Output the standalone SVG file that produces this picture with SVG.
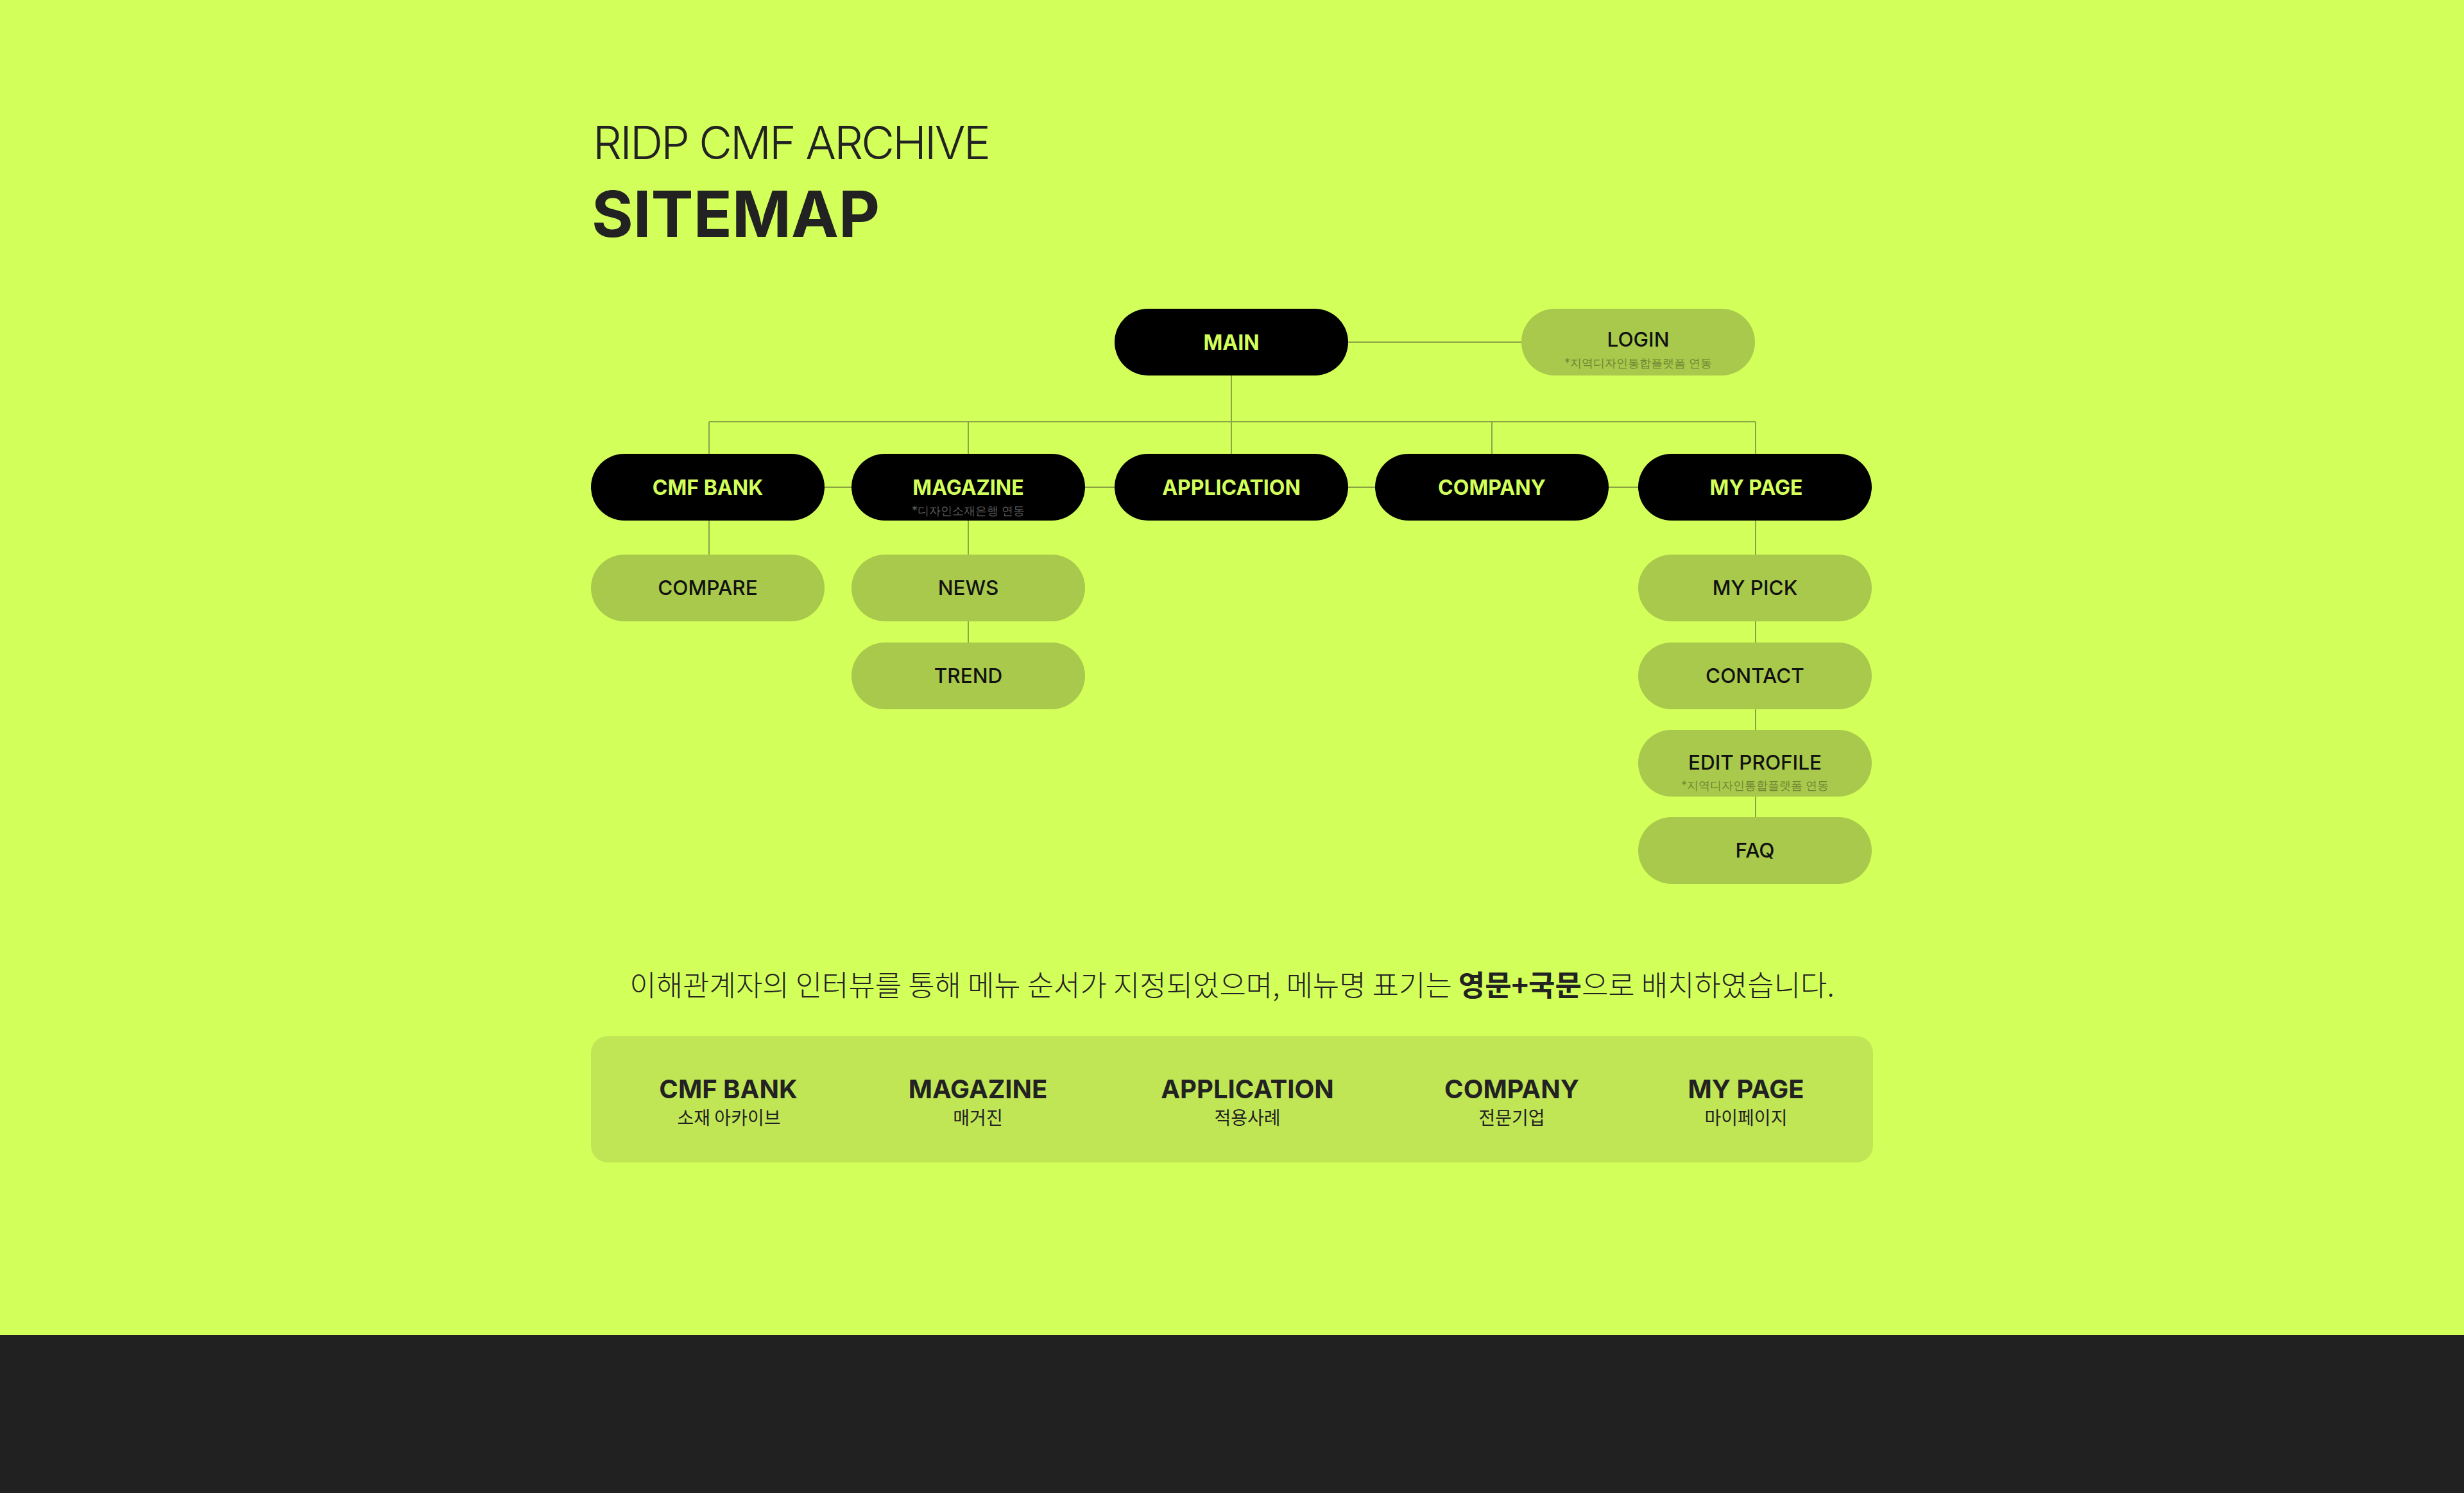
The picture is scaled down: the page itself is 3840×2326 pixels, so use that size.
<svg xmlns="http://www.w3.org/2000/svg" width="3840" height="2326" viewBox="0 0 3840 2326">
  <defs>
    <style>
      .main rect { fill: #000000; }
      .main text { fill: #D3FF5B; font-family: Inter, "Noto Sans", sans-serif; font-weight: 700; font-size: 32px; text-anchor: middle; }
      .sub rect { fill: #A8C94B; }
      .sub text { fill: #111111; font-family: Inter, "Noto Sans", sans-serif; font-weight: 500; font-size: 31.5px; text-anchor: middle; }
      .note { font-family: "Noto Sans CJK KR", sans-serif; font-weight: 400; text-anchor: middle; }
      .sub .note { fill: #6E8535; font-size: 18px; font-weight: 400; }
      .main .note { fill: #5C5C5C; font-size: 18px; font-weight: 400; }
      .conn { stroke: #8BA545; stroke-width: 2; fill: none; }
      .en { fill: #222222; font-family: Inter, "Noto Sans", sans-serif; font-weight: 700; font-size: 40px; text-anchor: middle; }
      .ko { fill: #222222; font-family: "Noto Sans CJK KR", sans-serif; font-weight: 400; font-size: 28px; text-anchor: middle; }
    </style>
  </defs>

  <rect x="0" y="0" width="3840" height="2080" fill="#D3FF5B"/>
  <rect x="0" y="2080" width="3840" height="246" fill="#212121"/>

  <g id="title">
    <text x="924" y="248" font-family="Inter, 'Noto Sans', sans-serif" font-weight="300" font-size="71" fill="#222222" textLength="620" lengthAdjust="spacing">RIDP CMF ARCHIVE</text>
    <text x="922" y="369" font-family="Inter, 'Noto Sans', sans-serif" font-weight="700" font-size="99" fill="#222222">SITEMAP</text>
  </g>

  <g id="connectors">
    <line class="conn" x1="2101" y1="533" x2="2371" y2="533"/>
    <line class="conn" x1="1919" y1="585" x2="1919" y2="707"/>
    <line class="conn" x1="1105" y1="657" x2="2736" y2="657"/>
    <line class="conn" x1="1105" y1="657" x2="1105" y2="707"/>
    <line class="conn" x1="1509" y1="657" x2="1509" y2="707"/>
    <line class="conn" x1="2325" y1="657" x2="2325" y2="707"/>
    <line class="conn" x1="2736" y1="657" x2="2736" y2="707"/>
    <line class="conn" x1="1285" y1="759" x2="1327" y2="759"/>
    <line class="conn" x1="1691" y1="759" x2="1737" y2="759"/>
    <line class="conn" x1="2101" y1="759" x2="2143" y2="759"/>
    <line class="conn" x1="2507" y1="759" x2="2553" y2="759"/>
    <line class="conn" x1="1105" y1="811" x2="1105" y2="864"/>
    <line class="conn" x1="1509" y1="811" x2="1509" y2="864"/>
    <line class="conn" x1="1509" y1="968" x2="1509" y2="1001"/>
    <line class="conn" x1="2736" y1="811" x2="2736" y2="864"/>
    <line class="conn" x1="2736" y1="968" x2="2736" y2="1001"/>
    <line class="conn" x1="2736" y1="1105" x2="2736" y2="1137"/>
    <line class="conn" x1="2736" y1="1241" x2="2736" y2="1273"/>
  </g>

  <g id="node-main" class="main">
    <rect x="1737" y="481" width="364" height="104" rx="52"/>
    <text x="1919" y="545">MAIN</text>
  </g>
  <g id="node-login" class="sub">
    <rect x="2371" y="481" width="364" height="104" rx="52"/>
    <text x="2553" y="540">LOGIN</text>
    <text class="note" x="2553" y="572">*지역디자인통합플랫폼 연동</text>
  </g>

  <g id="node-cmfbank" class="main">
    <rect x="921" y="707" width="364" height="104" rx="52"/>
    <text x="1103" y="771">CMF BANK</text>
  </g>
  <g id="node-magazine" class="main">
    <rect x="1327" y="707" width="364" height="104" rx="52"/>
    <text x="1509" y="771">MAGAZINE</text>
    <text class="note" x="1509" y="802">*디자인소재은행 연동</text>
  </g>
  <g id="node-application" class="main">
    <rect x="1737" y="707" width="364" height="104" rx="52"/>
    <text x="1919" y="771">APPLICATION</text>
  </g>
  <g id="node-company" class="main">
    <rect x="2143" y="707" width="364" height="104" rx="52"/>
    <text x="2325" y="771">COMPANY</text>
  </g>
  <g id="node-mypage" class="main">
    <rect x="2553" y="707" width="364" height="104" rx="52"/>
    <text x="2737" y="771">MY PAGE</text>
  </g>

  <g id="node-compare" class="sub">
    <rect x="921" y="864" width="364" height="104" rx="52"/>
    <text x="1103" y="927">COMPARE</text>
  </g>
  <g id="node-news" class="sub">
    <rect x="1327" y="864" width="364" height="104" rx="52"/>
    <text x="1509" y="927">NEWS</text>
  </g>
  <g id="node-trend" class="sub">
    <rect x="1327" y="1001" width="364" height="104" rx="52"/>
    <text x="1509" y="1064">TREND</text>
  </g>
  <g id="node-mypick" class="sub">
    <rect x="2553" y="864" width="364" height="104" rx="52"/>
    <text x="2735" y="927">MY PICK</text>
  </g>
  <g id="node-contact" class="sub">
    <rect x="2553" y="1001" width="364" height="104" rx="52"/>
    <text x="2735" y="1064">CONTACT</text>
  </g>
  <g id="node-editprofile" class="sub">
    <rect x="2553" y="1137" width="364" height="104" rx="52"/>
    <text x="2735" y="1199">EDIT PROFILE</text>
    <text class="note" x="2735" y="1230">*지역디자인통합플랫폼 연동</text>
  </g>
  <g id="node-faq" class="sub">
    <rect x="2553" y="1273" width="364" height="104" rx="52"/>
    <text x="2735" y="1336">FAQ</text>
  </g>

  <g id="description">
    <text x="1920" y="1552" font-family="'Noto Sans CJK KR', sans-serif" font-weight="300" font-size="45" fill="#222222" text-anchor="middle">이해관계자의 인터뷰를 통해 메뉴 순서가 지정되었으며, 메뉴명 표기는 <tspan font-weight="700">영문+국문</tspan>으로 배치하였습니다.</text>
  </g>

  <g id="menu-legend">
    <rect x="921" y="1614" width="1998" height="197" rx="26" fill="#C0E656"/>
    <text class="en" x="1135" y="1711">CMF BANK</text>
    <text class="ko" x="1136" y="1752">소재 아카이브</text>
    <text class="en" x="1524" y="1711">MAGAZINE</text>
    <text class="ko" x="1524" y="1752">매거진</text>
    <text class="en" x="1944" y="1711">APPLICATION</text>
    <text class="ko" x="1944" y="1752">적용사례</text>
    <text class="en" x="2356" y="1711">COMPANY</text>
    <text class="ko" x="2356" y="1752">전문기업</text>
    <text class="en" x="2721" y="1711">MY PAGE</text>
    <text class="ko" x="2721" y="1752">마이페이지</text>
  </g>
</svg>
